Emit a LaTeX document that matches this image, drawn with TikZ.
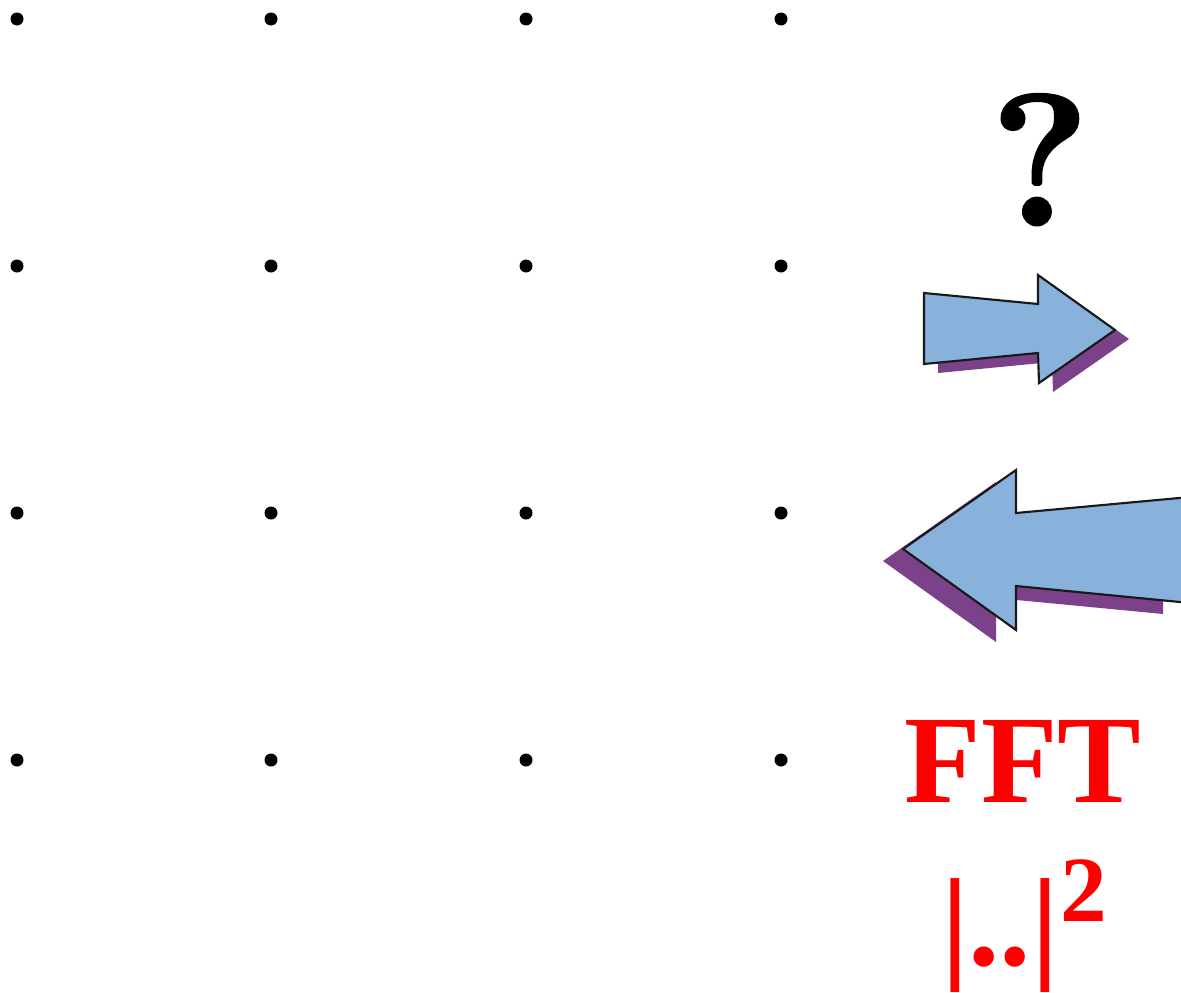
\documentclass[tikz,border=0pt]{standalone}
\usepackage{fontspec}
\newfontfamily\heavyserif{Liberation Serif Bold}
\newfontfamily\queryfont{Latin Modern Roman}[BoldFeatures={FakeBold=1.6}]
\definecolor{arrowblue}{HTML}{88B1DC}
\definecolor{shadowpurple}{HTML}{7B4189}
\definecolor{fftred}{HTML}{FF0000}
\tikzset{
  gridpt/.style={fill=black},
  arrowbody/.style={fill=arrowblue, draw=black!90, line width=1.6pt, line join=miter},
  arrowshadow/.style={fill=shadowpurple, draw=none},
  bigmark/.style={anchor=base, inner sep=0pt, font=\queryfont\bfseries\fontsize{140}{146}\selectfont},
  redlabel/.style={anchor=base, inner sep=0pt, text=fftred, font=\heavyserif\fontsize{94}{100}\selectfont},
  redsup/.style={anchor=base west, inner sep=0pt, text=fftred, font=\heavyserif\fontsize{70}{74}\selectfont}
}
\begin{document}
\begin{tikzpicture}[x=0.75pt, y=-0.75pt]
  \useasboundingbox (0,0) rectangle (1181,992);

  % 4 x 4 lattice of points
  \foreach \gx in {17,271,526,781}
    \foreach \gy in {19,266,513,760}
      \fill[gridpt] (\gx,\gy) circle (6.5);

  % forward arrow with its drop shadow
  \begin{scope}[shift={(14,9)}]
    \path[arrowshadow] (924,293) -- (1038,304) -- (1038,275) -- (1115,330)
      -- (1039,383) -- (1038,353) -- (924,364) -- cycle;
  \end{scope}
  \path[arrowbody] (924,293) -- (1038,304) -- (1038,275) -- (1115,330)
    -- (1039,383) -- (1038,353) -- (924,364) -- cycle;

  % backward arrow with its drop shadow
  \begin{scope}[shift={(-20,12)}]
    \path[arrowshadow] (903,549) -- (1016,470) -- (1016,513) -- (1183,497)
      -- (1183,602) -- (1016,586) -- (1016,630) -- cycle;
  \end{scope}
  \path[arrowbody] (903,549) -- (1016,470) -- (1016,513) -- (1190,497)
    -- (1190,603) -- (1016,586) -- (1016,630) -- cycle;

  % labels
  \node[bigmark] (query) at (1040,225) {?};
  \node[redlabel] (fft) at (1023,802) {FFT};
  \node[redlabel] (modsq) at (1000,965) {|..|};
  \node[redsup] (power) at (1060,921) {2};
\end{tikzpicture}
\end{document}
